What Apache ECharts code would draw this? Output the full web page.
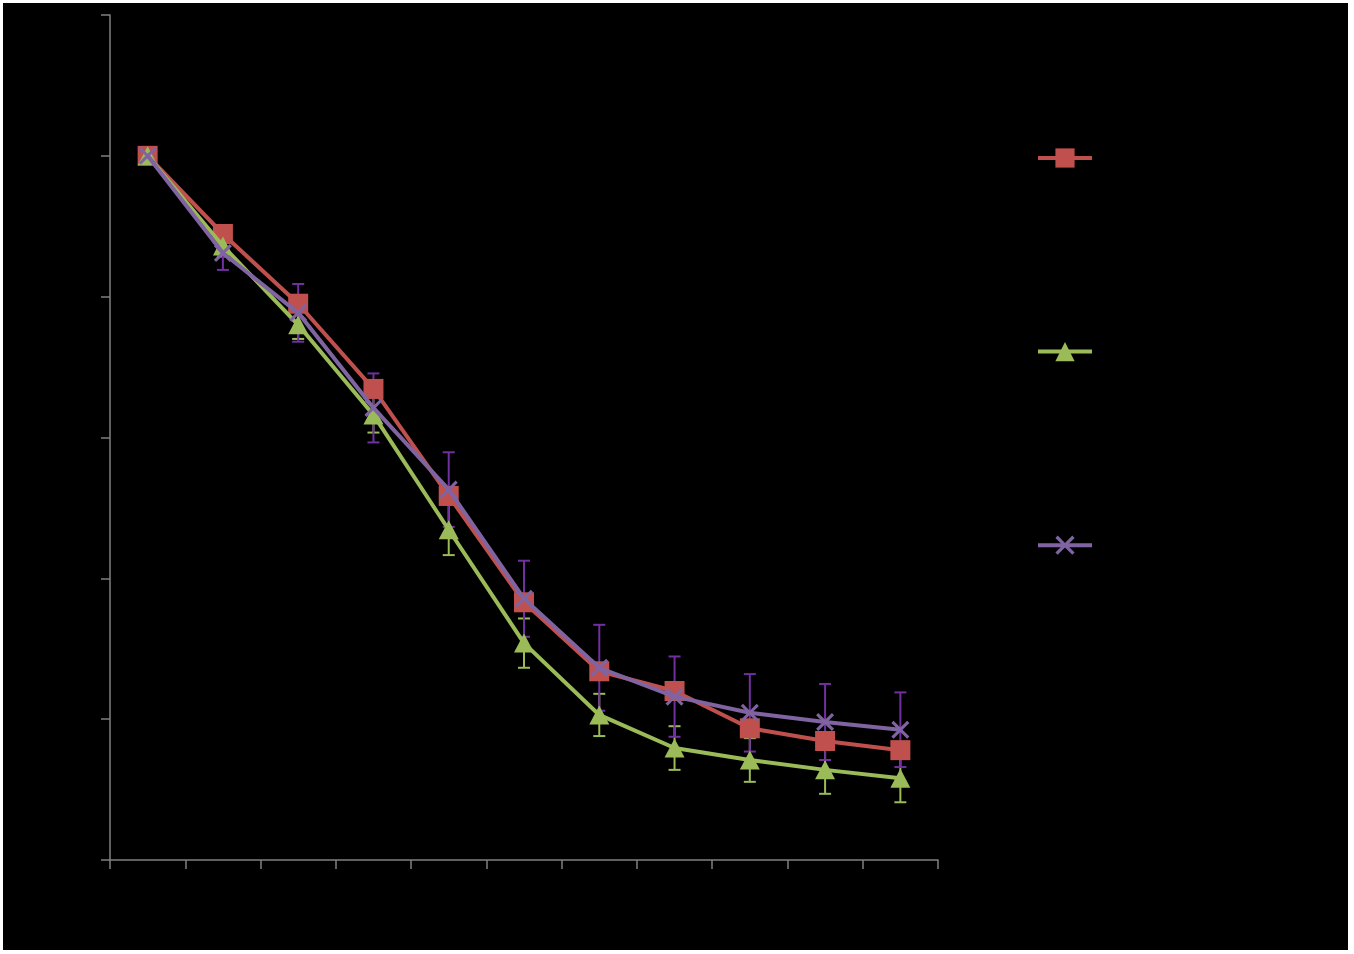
<!DOCTYPE html>
<html><head><meta charset="utf-8">
<script src="https://cdn.jsdelivr.net/npm/echarts@6/dist/echarts.min.js"></script>
<style>html,body{margin:0;padding:0;background:#fff;}#c{position:absolute;left:3px;top:3px;width:1345px;height:947px;background:#000;}</style>
</head><body><div id="c"></div><script>
const categories = ['1','2','3','4','5','6','7','8','9','10','11'];
const seriesNames = ['Series 1','Series 2','Series 3'];
const redValues = [100, 88.9, 79.0, 66.9, 51.7, 36.6, 26.8, 24.0, 18.7, 16.9, 15.6];
const greenValues = [100, 87.2, 76.0, 63.2, 46.9, 30.8, 20.6, 15.9, 14.2, 12.8, 11.6];
const purpleValues = [100, 86.2, 77.7, 64.2, 52.6, 37.1, 27.3, 23.2, 20.9, 19.6, 18.5];
const greenErrors = [0, 1.5, 2.0, 2.5, 3.6, 3.5, 3.0, 3.1, 3.1, 3.4, 3.4];
const purpleErrors = [0, 2.4, 4.1, 4.9, 5.3, 5.4, 6.1, 5.7, 5.5, 5.4, 5.3];
const yTicks = {min: 0, max: 120, interval: 20};

const RED = '#C0504D', GREEN = '#9BBB59', PURPLE = '#8064A2', PURPLE_ERR = '#7030A0';
const crossPath = 'path://M0,1.2 L1.2,0 L5,3.8 L8.8,0 L10,1.2 L6.2,5 L10,8.8 L8.8,10 L5,6.2 L1.2,10 L0,8.8 L3.8,5 Z';

function errData(vals, errs) {
  return vals.map((v, i) => [i, v - errs[i], v + errs[i]]);
}
function errSeries(vals, errs, color) {
  return {
    type: 'custom', z: 1, silent: true,
    data: errData(vals, errs),
    encode: {x: 0, y: [1, 2]},
    renderItem: function (params, api) {
      const i = api.value(0);
      const top = api.coord([i, api.value(2)]);
      const bot = api.coord([i, api.value(1)]);
      const w = 6;
      const st = {stroke: color, lineWidth: 2};
      return {type: 'group', children: [
        {type: 'line', shape: {x1: top[0], y1: top[1], x2: bot[0], y2: bot[1]}, style: st},
        {type: 'line', shape: {x1: top[0]-w, y1: top[1], x2: top[0]+w, y2: top[1]}, style: st},
        {type: 'line', shape: {x1: bot[0]-w, y1: bot[1], x2: bot[0]+w, y2: bot[1]}, style: st}
      ]};
    }
  };
}

const chart = echarts.init(document.getElementById('c'));
chart.setOption({
  backgroundColor: '#000',
  animation: false,
  grid: {left: 107, top: 12, width: 828, height: 845, containLabel: false},
  legend: {
    orient: 'vertical', left: 1033, top: 143, padding: 0, itemWidth: 54, itemHeight: 24, itemGap: 172,
    lineStyle: {width: 4},
    data: seriesNames, formatter: function () { return ''; }, selectedMode: false
  },
  xAxis: {
    type: 'category', data: categories, boundaryGap: true,
    axisLine: {lineStyle: {color: '#808080', width: 1.5}},
    axisTick: {show: true, alignWithLabel: false, length: 9, lineStyle: {color: '#808080', width: 1.5}},
    axisLabel: {show: false}, splitLine: {show: false}
  },
  yAxis: {
    type: 'value', min: yTicks.min, max: yTicks.max, interval: yTicks.interval,
    axisLine: {show: true, lineStyle: {color: '#808080', width: 1.5}},
    axisTick: {show: true, length: 9, lineStyle: {color: '#808080', width: 1.5}},
    axisLabel: {show: false}, splitLine: {show: false}
  },
  series: [
    errSeries(greenValues, greenErrors, GREEN),
    errSeries(purpleValues, purpleErrors, PURPLE_ERR),
    {name: seriesNames[0], type: 'line', z: 2, data: redValues, symbol: 'rect', symbolSize: 20,
     lineStyle: {color: RED, width: 4}, itemStyle: {color: RED}},
    {name: seriesNames[1], type: 'line', z: 3, data: greenValues, symbol: 'triangle', symbolSize: [20, 19],
     lineStyle: {color: GREEN, width: 4}, itemStyle: {color: GREEN}},
    {name: seriesNames[2], type: 'line', z: 4, data: purpleValues, symbol: crossPath, symbolSize: 18,
     lineStyle: {color: PURPLE, width: 4}, itemStyle: {color: PURPLE}}
  ]
});
</script></body></html>
